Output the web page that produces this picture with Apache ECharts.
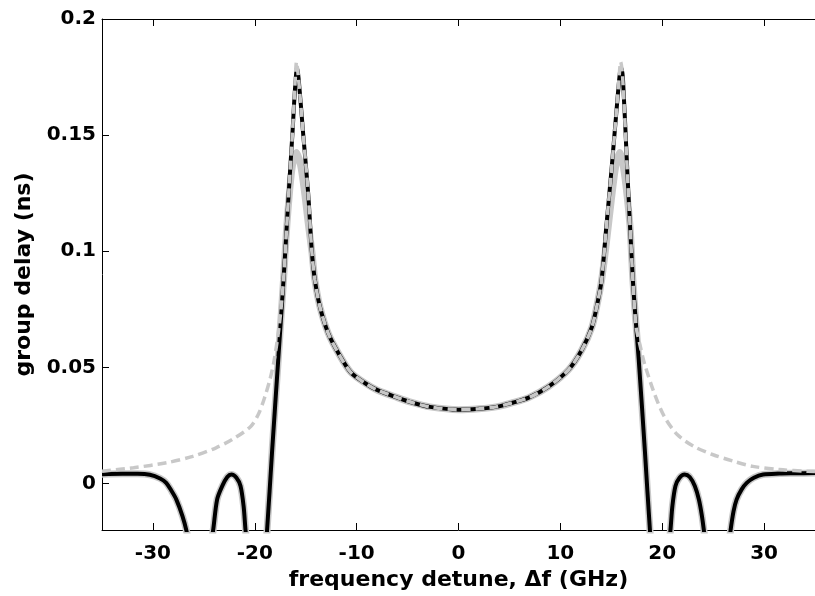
<!DOCTYPE html>
<html>
<head>
<meta charset="utf-8">
<script src="https://cdn.jsdelivr.net/npm/echarts@6/dist/echarts.min.js"></script>
<style>
  html, body { margin: 0; padding: 0; background: #fff; }
  #chart { width: 815px; height: 596px; }
</style>
</head>
<body>
<div id="chart"></div>
<script>
// tick labels
const xTicks = [-30, -20, -10, 0, 10, 20, 30];
const yTicks = [0, 0.05, 0.1, 0.15, 0.2];

// black solid curve [detune GHz, delay ns]; '-' = curve leaves the plot
const blackCurve = [
  [-35, 0.0040], [-33, 0.0042], [-31.5, 0.0042], [-30.3, 0.0038], [-29.3, 0.0022],
  [-28.7, 0.0003], [-28.2, -0.0030], [-27.7, -0.0069], [-27.1, -0.0140], [-26.7, -0.0205],
  [-26.4, -0.0280], [-25.3, '-'],
  [-24.4, -0.0280], [-24.1, -0.0205], [-23.7, -0.0069], [-23.2, -0.0011], [-22.7, 0.0028],
  [-22.3, 0.0039], [-21.8, 0.0025], [-21.4, -0.0011], [-21.1, -0.0097], [-20.9, -0.0205],
  [-20.7, -0.0280], [-19.8, '-'],
  [-19.0, -0.0300], [-18.8, -0.0205], [-18.3, 0.0140], [-17.7, 0.0532], [-17.18, 0.0876],
  [-16.9, 0.108], [-16.6, 0.130], [-16.3, 0.151], [-16.05, 0.170], [-15.85, 0.179],
  [-15.65, 0.172], [-15.24, 0.150], [-14.76, 0.125], [-14.4, 0.100], [-14.1, 0.0876],
  [-13.6, 0.076], [-12.8, 0.0648], [-11.8, 0.0562], [-10.6, 0.048], [-9.2, 0.0433],
  [-8.0, 0.0403], [-6.0, 0.037], [-4.5, 0.0348], [-2.8, 0.033], [0, 0.0318],
  [2.0, 0.0322], [3.7, 0.033], [5.3, 0.0348], [6.9, 0.037], [8.8, 0.0416],
  [10.8, 0.049], [12.1, 0.0575], [13.1, 0.0674], [13.7, 0.079], [14.05, 0.0876],
  [14.5, 0.110], [15.0, 0.134], [15.5, 0.160], [15.85, 0.177], [16.0, 0.179],
  [16.15, 0.174], [16.6, 0.132], [17.12, 0.0876], [17.4, 0.070], [17.7, 0.053],
  [18.3, 0.014], [18.8, -0.0205], [19.0, -0.0300], [19.8, '-'],
  [20.6, -0.0280], [20.8, -0.0205], [21.0, -0.0097], [21.3, -0.0011], [21.7, 0.0025],
  [22.2, 0.0039], [22.7, 0.0028], [23.2, -0.0011], [23.6, -0.0069], [23.9, -0.0140],
  [24.1, -0.0205], [24.3, -0.0280], [25.5, '-'],
  [26.5, -0.0280], [26.7, -0.0205], [27.0, -0.0120], [27.3, -0.0069], [27.8, -0.0025],
  [28.3, 0.0003], [29.0, 0.0025], [29.9, 0.0039], [31.5, 0.0043], [33, 0.0044], [35, 0.0045]
];

// light grey solid curve (lower peaks)
const grayCurve = [
  [-35, 0.0040], [-33, 0.0042], [-31.5, 0.0042], [-30.3, 0.0038], [-29.3, 0.0022],
  [-28.7, 0.0003], [-28.2, -0.0030], [-27.7, -0.0069], [-27.1, -0.0140], [-26.7, -0.0205],
  [-26.4, -0.0280], [-25.3, '-'],
  [-24.4, -0.0280], [-24.1, -0.0205], [-23.7, -0.0069], [-23.2, -0.0011], [-22.7, 0.0028],
  [-22.3, 0.0039], [-21.8, 0.0025], [-21.4, -0.0011], [-21.1, -0.0097], [-20.9, -0.0205],
  [-20.7, -0.0280], [-19.8, '-'],
  [-19.0, -0.0300], [-18.8, -0.0205], [-18.3, 0.0140], [-17.7, 0.0532], [-17.18, 0.0876],
  [-16.9, 0.108], [-16.6, 0.125], [-16.3, 0.137], [-15.9, 0.1425], [-15.5, 0.137],
  [-15.1, 0.125], [-14.75, 0.112], [-14.4, 0.100], [-14.1, 0.0876],
  [-13.6, 0.076], [-12.8, 0.0648], [-11.8, 0.0562], [-10.6, 0.048], [-9.2, 0.0433],
  [-8.0, 0.0403], [-6.0, 0.037], [-4.5, 0.0348], [-2.8, 0.033], [0, 0.0318],
  [2.0, 0.0322], [3.7, 0.033], [5.3, 0.0348], [6.9, 0.037], [8.8, 0.0416],
  [10.8, 0.049], [12.1, 0.0575], [13.1, 0.0674], [13.7, 0.079], [14.05, 0.0876],
  [14.5, 0.103], [15.0, 0.122], [15.45, 0.137], [15.83, 0.1425], [16.2, 0.136],
  [16.55, 0.124], [16.85, 0.110], [17.12, 0.0876], [17.4, 0.070], [17.7, 0.053],
  [18.3, 0.014], [18.8, -0.0205], [19.0, -0.0300], [19.8, '-'],
  [20.6, -0.0280], [20.8, -0.0205], [21.0, -0.0097], [21.3, -0.0011], [21.7, 0.0025],
  [22.2, 0.0039], [22.7, 0.0028], [23.2, -0.0011], [23.6, -0.0069], [23.9, -0.0140],
  [24.1, -0.0205], [24.3, -0.0280], [25.5, '-'],
  [26.5, -0.0280], [26.7, -0.0205], [27.0, -0.0120], [27.3, -0.0069], [27.8, -0.0025],
  [28.3, 0.0003], [29.0, 0.0025], [29.9, 0.0039], [31.5, 0.0043], [33, 0.0044], [35, 0.0045]
];

// light grey dashed curve
const dashedCurve = [
  [-35, 0.0053], [-31.9, 0.0068], [-28.6, 0.0090], [-26.1, 0.0117], [-23.8, 0.0154],
  [-22.2, 0.0190], [-20.4, 0.0246], [-19.6, 0.0303], [-19.0, 0.0375], [-18.5, 0.0450],
  [-18.1, 0.053], [-17.6, 0.068], [-17.18, 0.0876], [-16.9, 0.108], [-16.6, 0.130],
  [-16.3, 0.151], [-16.05, 0.172], [-15.9, 0.1815], [-15.72, 0.175], [-15.24, 0.150],
  [-14.76, 0.125], [-14.4, 0.100], [-14.1, 0.0876], [-13.6, 0.076], [-12.8, 0.0648],
  [-11.8, 0.0562], [-10.6, 0.048], [-9.2, 0.0433], [-8.0, 0.0403], [-6.0, 0.037],
  [-4.5, 0.0348], [-2.8, 0.033], [0, 0.0318], [2.0, 0.0322], [3.7, 0.033],
  [5.3, 0.0348], [6.9, 0.037], [8.8, 0.0416], [10.8, 0.049], [12.1, 0.0575],
  [13.1, 0.0674], [13.7, 0.079], [14.05, 0.0876], [14.5, 0.110], [15.0, 0.134],
  [15.5, 0.160], [15.75, 0.174], [15.92, 0.1815], [16.1, 0.176], [16.6, 0.132],
  [17.12, 0.0876], [17.44, 0.0675], [17.8, 0.060], [18.25, 0.0518], [19.22, 0.0389],
  [20.2, 0.0289], [21.5, 0.0210], [23.1, 0.0160], [25.0, 0.0124], [27.0, 0.0096],
  [28.9, 0.0074], [31.5, 0.0060], [34.3, 0.0053], [35, 0.0052]
];

const fontFamily = "DejaVu Sans";

const chart = echarts.init(document.getElementById("chart"));
chart.setOption({
  animation: false,
  backgroundColor: "#fff",
  grid: {
    left: 102,
    right: -8,
    top: 19,
    bottom: 66,
  },
  xAxis: [
    {
      type: "value",
      min: -35,
      max: 35,
      name: "frequency detune, \u0394f (GHz)",
      nameLocation: "middle",
      nameGap: 37,
      nameTextStyle: { fontFamily, fontWeight: "bold", fontSize: 22, color: "#000" },
      axisLine: { show: true, onZero: false, lineStyle: { color: "#000", width: 1 } },
      axisTick: { show: true, inside: true, length: 7, customValues: xTicks, lineStyle: { color: "#000" } },
      axisLabel: {
        customValues: xTicks,
        margin: 14,
        fontFamily,
        fontWeight: "bold",
        fontSize: 20,
        color: "#000",
      },
      splitLine: { show: false },
    },
    {
      type: "value",
      position: "top",
      min: -35,
      max: 35,
      axisLine: { show: true, onZero: false, lineStyle: { color: "#000", width: 1 } },
      axisTick: { show: true, inside: true, length: 7, customValues: xTicks, lineStyle: { color: "#000" } },
      axisLabel: { show: false },
      splitLine: { show: false },
    },
  ],
  yAxis: {
    type: "value",
    min: -0.02,
    max: 0.2,
    name: "group delay (ns)",
    nameLocation: "middle",
    nameGap: 64,
    nameTextStyle: { fontFamily, fontWeight: "bold", fontSize: 22, color: "#000" },
    axisLine: { show: true, onZero: false, lineStyle: { color: "#000", width: 1 } },
    axisTick: { show: true, inside: true, length: 7, customValues: yTicks, lineStyle: { color: "#000" } },
    axisLabel: {
      customValues: yTicks,
      margin: 6,
      fontFamily,
      fontWeight: "bold",
      fontSize: 20,
      color: "#000",
    },
    splitLine: { show: false },
  },
  series: [
    {
      name: "grey",
      type: "line",
      data: grayCurve,
      smooth: 0.3,
      showSymbol: false,
      symbol: "none",
      lineStyle: { color: "#c8c8c8", width: 7 },
      z: 1,
    },
    {
      name: "black",
      type: "line",
      data: blackCurve,
      smooth: 0.3,
      showSymbol: false,
      symbol: "none",
      lineStyle: { color: "#000", width: 4 },
      z: 2,
    },
    {
      name: "dashed",
      type: "line",
      data: dashedCurve,
      smooth: 0.3,
      showSymbol: false,
      symbol: "none",
      lineStyle: { color: "#c8c8c8", width: 3.5, type: [9, 5] },
      z: 3,
    },
  ],
});
</script>
</body>
</html>
